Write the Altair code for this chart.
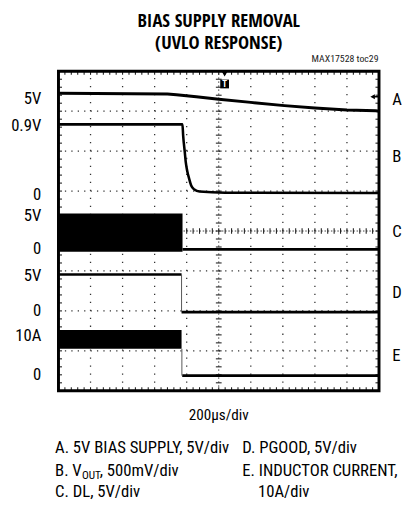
import altair as alt
import pandas as pd
import numpy as np

FONT = "Roboto Condensed"
TFONT = "Open Sans Condensed"

# ---------------- data (screen divisions: x 0..10, y 0..8) ----------------
# A: 5V bias supply
a_time = [0, 3.4, 3.68, 4.3, 5.0, 6.0, 7.05, 8.0, 9.0, 9.9, 10]
a_level = [7.45, 7.43, 7.41, 7.36, 7.30, 7.22, 7.14, 7.08, 7.03, 7.01, 7.00]
# B: VOUT
b_time = [0, 3.868, 3.89, 3.94, 3.97, 4.02, 4.07, 4.14, 4.24, 4.40, 5.2, 10]
b_level = [6.67, 6.67, 6.39, 5.98, 5.73, 5.49, 5.33, 5.14, 5.04, 4.99, 4.96, 4.95]
# switching bursts (C: DL, E: inductor current)
burst_end = [3.87, 3.84]
burst_low = [3.48, 1.05]
burst_high = [4.44, 1.52]
# flat segments (C low, D high, D low, E low)
flat_start = [3.87, 0.0, 3.84, 3.86]
flat_end = [10, 3.84, 10, 10]
flat_level = [3.54, 2.91, 1.97, 0.38]
# thin transition edges (D, E)
edge_time = [3.84, 3.85]
edge_from = [2.91, 1.05]
edge_to = [1.97, 0.38]

left_labels = ["5V", "0.9V", "0", "5V", "0", "5V", "0", "10A", "0"]
left_levels = [7.30, 6.63, 4.91, 4.37, 3.54, 2.86, 1.99, 1.36, 0.39]
channel_names = ["A", "B", "C", "D", "E"]
channel_levels = [7.28, 5.86, 3.98, 2.45, 0.88]

title_lines = ["BIAS SUPPLY REMOVAL", "(UVLO RESPONSE)"]
tag_text = "MAX17528 toc29"
xaxis_text = "200\u00b5s/div"
legend_col1 = ["A. 5V BIAS SUPPLY, 5V/div", "B. V", "OUT", ", 500mV/div", "C. DL, 5V/div"]
legend_col2 = ["D. PGOOD, 5V/div", "E. INDUCTOR CURRENT,", "10A/div"]

# ---------------- scales ----------------
XS = alt.Scale(domain=[0, 10], nice=False, zero=False)
YS = alt.Scale(domain=[0, 8], nice=False, zero=False)
W, H = 327, 326


def X(f):
    return alt.X(f, type="quantitative", scale=XS, axis=None)


def Y(f):
    return alt.Y(f, type="quantitative", scale=YS, axis=None)


one = pd.DataFrame({"k": [0]})


def label(txt, x, y, size, align="left", baseline="alphabetic", weight="normal", color="black", font=FONT):
    return alt.Chart(one).mark_text(
        text=txt, align=align, baseline=baseline, fontSize=size,
        fontWeight=weight, font=font, color=color
    ).encode(x=alt.value(x), y=alt.value(y))


layers = []

# grid dotted lines
hgrid = pd.DataFrame({"y": [1, 2, 3, 5, 6, 7], "x": 0, "x2": 10})
vgrid = pd.DataFrame({"x": [1, 2, 3, 4, 6, 7, 8, 9], "y": 0, "y2": 8})
layers.append(alt.Chart(hgrid).mark_rule(color="#333", strokeWidth=1.3, strokeDash=[1.3, 5.24]).encode(
    x=X("x"), x2="x2", y=Y("y")))
layers.append(alt.Chart(vgrid).mark_rule(color="#333", strokeWidth=1.3, strokeDash=[1.3, 6.85]).encode(
    x=X("x"), y=Y("y"), y2="y2"))
# center cross lines
layers.append(alt.Chart(pd.DataFrame({"y": [4], "x": 0, "x2": 10})).mark_rule(
    color="#444", strokeWidth=1, strokeDash=[1.5, 1.77]).encode(x=X("x"), x2="x2", y=Y("y")))
layers.append(alt.Chart(pd.DataFrame({"x": [5], "y": 0, "y2": 8})).mark_rule(
    color="#444", strokeWidth=1, strokeDash=[1.5, 2.58]).encode(x=X("x"), y=Y("y"), y2="y2"))

# tick marks
xm = np.round(np.arange(0, 10.001, 0.2), 3)
ym = np.round(np.arange(0, 8.001, 0.2), 3)
tk = []
for v in xm:
    tk.append((v, v, 8, 7.91))
    tk.append((v, v, 0, 0.09))
    tk.append((v, v, 3.93, 4.07))
for v in ym:
    tk.append((0, 0.11, v, v))
    tk.append((10, 9.89, v, v))
    tk.append((4.91, 5.09, v, v))
ticks = pd.DataFrame(tk, columns=["x", "x2", "y", "y2"])
layers.append(alt.Chart(ticks).mark_rule(color="#222", strokeWidth=1.1).encode(
    x=X("x"), x2="x2", y=Y("y"), y2="y2"))

# bursts
bursts = pd.DataFrame({"x": 0, "x2": burst_end, "y": burst_low, "y2": burst_high})
layers.append(alt.Chart(bursts).mark_rect(color="black").encode(
    x=X("x"), x2="x2", y=Y("y"), y2="y2"))

# flat segments
flats = pd.DataFrame({"x": flat_start, "x2": flat_end, "y": flat_level})
layers.append(alt.Chart(flats).mark_rule(color="black", strokeWidth=2.6).encode(
    x=X("x"), x2="x2", y=Y("y")))
edges = pd.DataFrame({"x": edge_time, "y": edge_from, "y2": edge_to})
layers.append(alt.Chart(edges).mark_rule(color="#555", strokeWidth=1).encode(
    x=X("x"), y=Y("y"), y2="y2"))

# A and B traces
layers.append(alt.Chart(pd.DataFrame({"t": a_time, "v": a_level})).mark_line(
    color="black", strokeWidth=3).encode(x=X("t"), y=Y("v")))
layers.append(alt.Chart(pd.DataFrame({"t": b_time, "v": b_level})).mark_line(
    color="black", strokeWidth=2.6, interpolate="monotone").encode(x=X("t"), y=Y("v")))

# border
layers.append(alt.Chart(one).mark_rect(fill=None, stroke="black", strokeWidth=3).encode(
    x=alt.datum(0, scale=XS, axis=None), x2=alt.datum(10),
    y=alt.datum(0, scale=YS, axis=None), y2=alt.datum(8)))

# left level labels
layers.append(alt.Chart(pd.DataFrame({"t": left_labels, "v": left_levels})).mark_text(
    align="right", baseline="middle", fontSize=17, font=FONT, color="black").encode(
    x=alt.value(-17.5), y=Y("v"), text="t"))
# right channel letters
layers.append(alt.Chart(pd.DataFrame({"t": channel_names, "v": channel_levels})).mark_text(
    align="left", baseline="middle", fontSize=17, font=FONT, color="black").encode(
    x=alt.value(340.5), y=Y("v"), text="t"))

# trigger marker and level arrow
layers.append(alt.Chart(one).mark_point(shape="triangle-down", filled=True, color="black", size=30, opacity=1).encode(
    x=alt.value(169.5), y=alt.value(3)))
layers.append(alt.Chart(one).mark_point(shape="square", filled=True, color="black", size=80, opacity=1).encode(
    x=alt.value(169.5), y=alt.value(13)))
layers.append(label("T", 169.5, 13, 9, align="center", baseline="middle", weight="bold", color="white"))
layers.append(alt.Chart(one).mark_point(shape="triangle-left", filled=True, color="black", size=28, opacity=1).encode(
    x=alt.value(320.5), y=alt.value(26)))
layers.append(alt.Chart(one).mark_rule(color="black", strokeWidth=1.5).encode(
    x=alt.value(321), x2=alt.value(326), y=alt.value(26)))

# titles and texts
layers.append(label(title_lines[0], 163.5, -45, 19, align="center", weight="bold", font=TFONT))
layers.append(label(title_lines[1], 163.5, -23, 19, align="center", weight="bold", font=TFONT))
layers.append(label(tag_text, 326.5, -9.5, 10, align="right", color="#222"))
layers.append(label(xaxis_text, 163.5, 356, 15.5, align="center"))
layers.append(label(legend_col1[0], -3.5, 389.5, 17))
layers.append(label(legend_col1[1], -3.5, 412.5, 17))
layers.append(label(legend_col1[2], 24, 415.5, 11.5))
layers.append(label(legend_col1[3], 42, 412.5, 17))
layers.append(label(legend_col1[4], -3.5, 434.5, 17))
layers.append(label(legend_col2[0], 187.5, 389.5, 17))
layers.append(label(legend_col2[1], 187.5, 412.5, 17))
layers.append(label(legend_col2[2], 203.5, 434.5, 17))

chart = alt.layer(*layers).properties(
    width=W, height=H,
    padding={"left": 51.5, "top": 59.5, "right": 25.5, "bottom": 112.5},
    autosize=alt.AutoSizeParams(type="none"),
).configure_view(stroke=None).configure(background="white")

chart.save("out.html", embed_options={"renderer": "svg", "actions": False})
